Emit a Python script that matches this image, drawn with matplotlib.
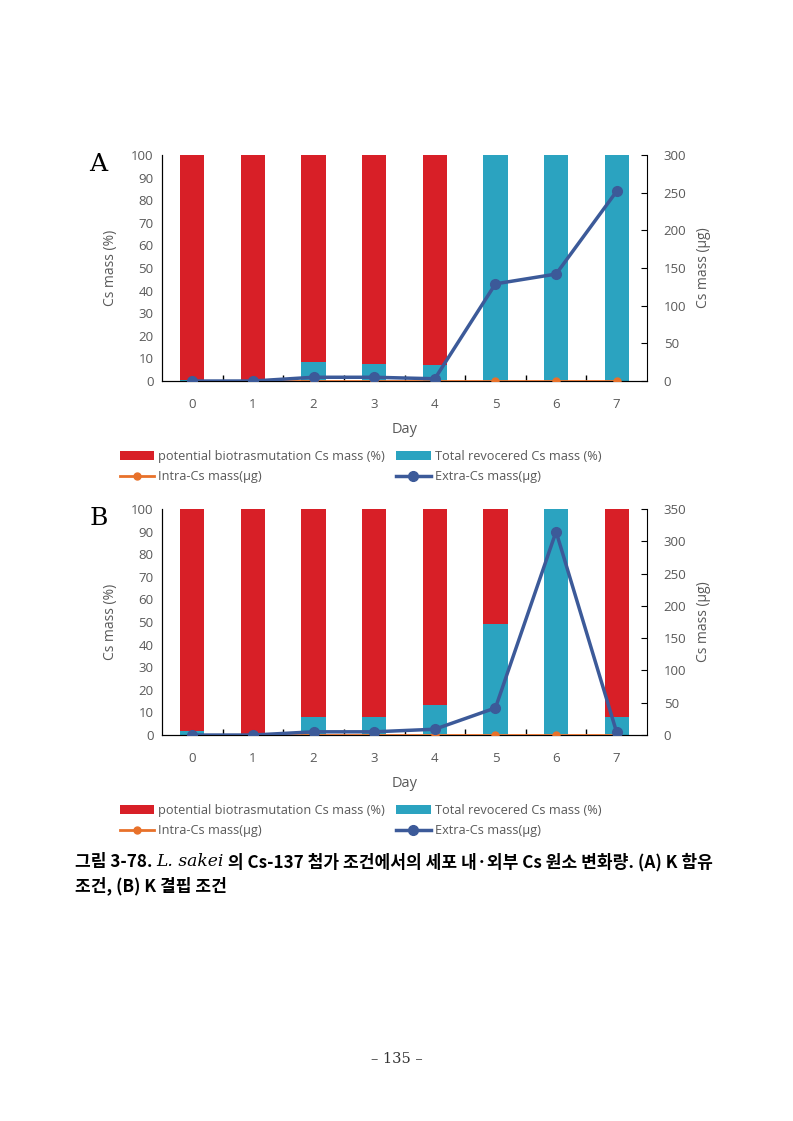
import numpy as np
import matplotlib
matplotlib.use('Agg')
import matplotlib.pyplot as plt
from matplotlib.ticker import FixedLocator

plt.rcParams['font.family'] = ['Open Sans', 'DejaVu Sans']

# Data
days = [0, 1, 2, 3, 4, 5, 6, 7]

# Panel A (K containing)
recovered_a = [0.5, 0.5, 8.5, 7.5, 7.0, 100, 100, 100]
extra_a = [0, 0, 5, 5, 3, 129, 142, 252]
intra_a = [0, 0, 0, 0, 0, 0, 0, 0]

# Panel B (K deficient)
recovered_b = [2.0, 0.0, 8.0, 8.0, 13.5, 49, 100, 8.0]
extra_b = [0, 0, 5, 5, 9, 42, 315, 4]
intra_b = [0, 0, 0, 0, 0, 0, 0, 0]

right_max = {'A': 300, 'B': 350}

red = '#d81f27'
teal = '#2ba3c0'
navy = '#3c5a99'
orange = '#e8712a'
gray = '#595959'

fig = plt.figure(figsize=(7.93, 11.21), dpi=100)


def panel(rect, letter, recovered, extra, intra, ymax2):
    ax = fig.add_axes(rect)
    x = np.arange(len(days))
    potential = [100 - r for r in recovered]
    b1 = ax.bar(x, recovered, width=0.4, color=teal, zorder=2)
    b2 = ax.bar(x, potential, width=0.4, bottom=recovered, color=red, zorder=2)
    ax.set_xlim(-0.5, len(days) - 0.5)
    ax.set_ylim(0, 100)
    ax.set_yticks(range(0, 101, 10))
    ax.set_xticks(x)
    ax.set_xticklabels([str(d) for d in days])
    ax.xaxis.set_minor_locator(FixedLocator(np.arange(0.5, len(days) - 1, 1)))
    ax.tick_params(axis='x', which='major', length=0, pad=12, labelsize=9.5, labelcolor=gray)
    ax.tick_params(axis='x', which='minor', direction='in', length=4, width=1)
    ax.tick_params(axis='y', length=0, pad=6, labelsize=9.5, labelcolor=gray)
    ax.spines['top'].set_visible(False)
    ax.spines['right'].set_visible(False)
    ax.set_xlabel('Day', fontsize=10.5, color=gray, labelpad=8)
    ax.set_ylabel('Cs mass (%)', fontsize=10, color=gray)
    ax.yaxis.set_label_coords(-0.09, 0.5)

    ax2 = ax.twinx()
    l1, = ax2.plot(x, intra, color=orange, lw=2, marker='o', ms=5, zorder=3)
    l2, = ax2.plot(x, extra, color=navy, lw=2.5, marker='o', ms=7, zorder=4)
    ax2.set_ylim(0, ymax2)
    ax2.set_yticks(range(0, ymax2 + 1, 50))
    ax2.tick_params(axis='y', direction='in', length=4, pad=12, labelsize=9.5, labelcolor=gray)
    ax2.spines['top'].set_visible(False)
    ax2.set_ylabel('Cs mass (\u03bcg)', fontsize=10, color=gray)
    ax2.yaxis.set_label_coords(1.10, 0.5)

    ax.text(-0.15, 1.01, letter, transform=ax.transAxes, fontsize=18,
            family='DejaVu Serif', va='top', ha='left')

    fig.legend([b2, l1, b1, l2],
               ['potential biotrasmutation Cs mass (%)', 'Intra-Cs mass(\u03bcg)',
                'Total revocered Cs mass (%)', 'Extra-Cs mass(\u03bcg)'],
               ncol=2, frameon=False, fontsize=9.2, labelcolor=gray,
               loc='upper left',
               bbox_to_anchor=(rect[0] - 0.06, rect[1] - 0.057),
               handlelength=2.7, handletextpad=0.3, columnspacing=0.9,
               labelspacing=0.55, borderaxespad=0)
    return ax


panel([0.2043, 0.6601, 0.6116, 0.2016], 'A', recovered_a, extra_a, intra_a, right_max['A'])
panel([0.2043, 0.3443, 0.6116, 0.2016], 'B', recovered_b, extra_b, intra_b, right_max['B'])

# Caption (bold Korean, species name in italics)
renderer = fig.canvas.get_renderer()
cap_font = ['Noto Sans CJK KR', 'DejaVu Sans']
pieces = [('그림 3-78. ', 'normal', 'bold', cap_font),
          ('L. sakei', 'italic', 'normal', ['DejaVu Serif']),
          (' 의 Cs-137 첨가 조건에서의 세포 내·외부 Cs 원소 변화량. (A) K 함유', 'normal', 'bold', cap_font)]
xpos = 75 / 793
ypos = 1 - 862 / 1121
for txt, style, weight, fam in pieces:
    t = fig.text(xpos, ypos, txt, fontsize=12.3, fontweight=weight, style=style,
                 family=fam, va='center', ha='left')
    bb = t.get_window_extent(renderer)
    xpos += bb.width / fig.bbox.width
fig.text(75 / 793, 1 - 886 / 1121, '조건, (B) K 결핍 조건', fontsize=12.3,
         fontweight='bold', family=cap_font, va='center', ha='left')

fig.text(0.5, 1 - 1059 / 1121, '\u2013 135 \u2013', fontsize=10.5, family='DejaVu Serif',
         ha='center', va='center', color='#333333')

fig.savefig('out.png', dpi=100)
